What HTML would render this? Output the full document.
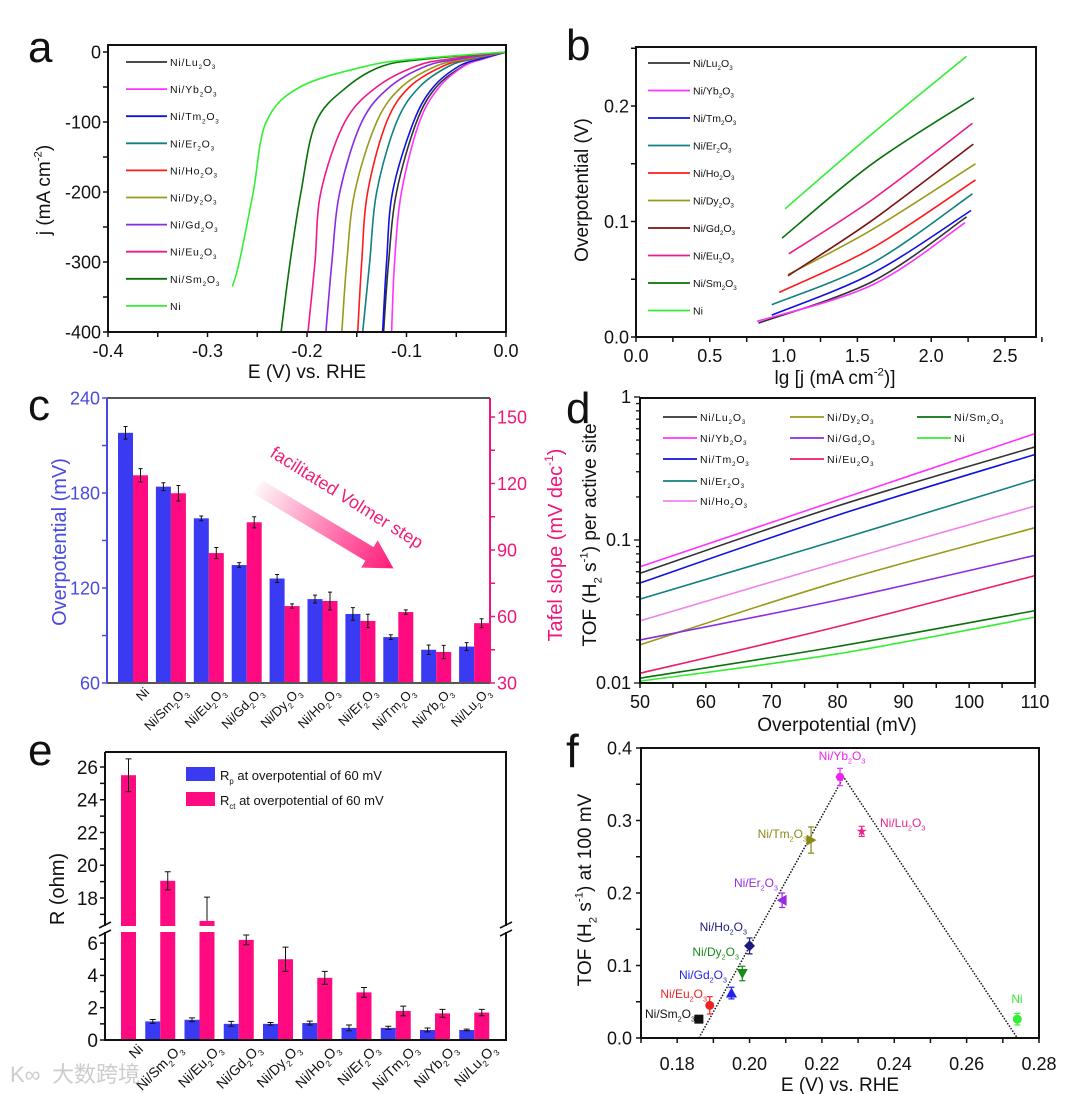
<!DOCTYPE html>
<html><head><meta charset="utf-8"><title>Figure</title>
<style>
html,body{margin:0;padding:0;background:#fff;}
svg{display:block;font-family:"Liberation Sans","Noto Sans CJK SC",sans-serif;}
</style></head>
<body>
<svg id="fig" width="1080" height="1094" viewBox="0 0 1080 1094"></svg>
<script>
// ---------- DATA ----------
// panel a
const seriesA = ["Ni/Lu{_2}O{_3}","Ni/Yb{_2}O{_3}","Ni/Tm{_2}O{_3}","Ni/Er{_2}O{_3}","Ni/Ho{_2}O{_3}","Ni/Dy{_2}O{_3}","Ni/Gd{_2}O{_3}","Ni/Eu{_2}O{_3}","Ni/Sm{_2}O{_3}","Ni"];
const colorsA = ["#333333","#ff33ff","#1010e0","#108080","#ff1a1a","#9a9a1a","#8a2be2","#ee1a8a","#0a700a","#33ee33"];
const jLevels = [0,-10,-20,-50,-100,-200,-300,-400];
const jLevelsNi = [0,-10,-20,-50,-100,-200,-300,-335];
const eLu = [0,-0.025,-0.043,-0.070,-0.090,-0.110,-0.118,-0.123];
const eYb = [0,-0.023,-0.042,-0.067,-0.087,-0.105,-0.112,-0.115];
const eTm = [0,-0.026,-0.047,-0.073,-0.093,-0.114,-0.120,-0.124];
const eEr = [0,-0.033,-0.057,-0.087,-0.110,-0.130,-0.137,-0.144];
const eHo = [0,-0.037,-0.063,-0.097,-0.120,-0.139,-0.145,-0.149];
const eDy = [0,-0.040,-0.070,-0.105,-0.130,-0.152,-0.160,-0.165];
const eGd = [0,-0.047,-0.080,-0.117,-0.145,-0.167,-0.175,-0.181];
const eEu = [0,-0.057,-0.090,-0.130,-0.162,-0.186,-0.192,-0.199];
const eSm = [0,-0.080,-0.124,-0.160,-0.191,-0.206,-0.217,-0.226];
const eNi = [0,-0.090,-0.140,-0.207,-0.241,-0.254,-0.268,-0.275];
// panel b : lg j and overpotential at start / middle / end
const colorsB = ["#333333","#ff33ff","#1010e0","#108080","#ff1a1a","#9a9a1a","#7a1010","#ee1a8a","#0a700a","#33ee33"];
const lgLu=[0.83,1.6,2.24], etaLu=[0.012,0.048,0.104];
const lgYb=[0.82,1.6,2.23], etaYb=[0.0135,0.045,0.099];
const lgTm=[0.92,1.6,2.27], etaTm=[0.019,0.055,0.1095];
const lgEr=[0.92,1.6,2.28], etaEr=[0.028,0.064,0.124];
const lgHo=[0.97,1.6,2.30], etaHo=[0.0386,0.077,0.136];
const lgDy=[1.03,1.6,2.30], etaDy=[0.054,0.093,0.150];
const lgGd=[1.03,1.6,2.285], etaGd=[0.053,0.101,0.167];
const lgEu=[1.035,1.6,2.28], etaEu=[0.072,0.119,0.185];
const lgSm=[0.99,1.6,2.29], etaSm=[0.0856,0.150,0.207];
const lgNi=[1.01,1.6,2.24], etaNi=[0.111,0.176,0.243];
// panel c
const catsC = ["Ni","Ni/Sm{_2}O{_3}","Ni/Eu{_2}O{_3}","Ni/Gd{_2}O{_3}","Ni/Dy{_2}O{_3}","Ni/Ho{_2}O{_3}","Ni/Er{_2}O{_3}","Ni/Tm{_2}O{_3}","Ni/Yb{_2}O{_3}","Ni/Lu{_2}O{_3}"];
const overpot = [218,184,164,134.5,126,113,103.6,89,81,83];
const overpotErr = [4,2.5,1.5,1.5,2.5,2.5,4,1.5,3,2.5];
const tafel = [123.7,115.6,88.6,102.5,64.7,67,58,62,44,57];
const tafelErr = [3,3.5,2.5,2.5,1,4,3,1,3,2];
// panel d : TOF at 50, 80, 110 mV
const etaD = [50,80,110];
const seriesD = ["Ni/Lu{_2}O{_3}","Ni/Yb{_2}O{_3}","Ni/Tm{_2}O{_3}","Ni/Er{_2}O{_3}","Ni/Ho{_2}O{_3}","Ni/Dy{_2}O{_3}","Ni/Gd{_2}O{_3}","Ni/Eu{_2}O{_3}","Ni/Sm{_2}O{_3}","Ni"];
const colorsD = ["#333333","#ff33ff","#1010e0","#108080","#ee82ee","#9a9a1a","#8a2be2","#ee1a6a","#0a700a","#33ee33"];
const tofLu=[0.0585,0.173,0.448];
const tofYb=[0.065,0.19,0.555];
const tofTm=[0.050,0.149,0.396];
const tofEr=[0.0386,0.100,0.265];
const tofHo=[0.0272,0.0695,0.173];
const tofDy=[0.0185,0.051,0.122];
const tofGd=[0.020,0.038,0.078];
const tofEu=[0.0117,0.0248,0.0564];
const tofSm=[0.0108,0.018,0.0321];
const tofNi=[0.0103,0.016,0.0289];
// panel e
const catsE = catsC;
const rp = [null,1.15,1.25,1.0,1.0,1.05,0.75,0.75,0.62,0.62];
const rpErr = [0,0.12,0.12,0.15,0.08,0.12,0.18,0.1,0.12,0.05];
const rct = [25.5,19.05,16.6,6.2,5.0,3.85,2.95,1.8,1.65,1.7];
const rctErr = [1.0,0.55,1.45,0.3,0.75,0.4,0.3,0.3,0.25,0.2];
// panel f
const namesF = ["Ni/Sm{_2}O{_3}","Ni/Eu{_2}O{_3}","Ni/Gd{_2}O{_3}","Ni/Dy{_2}O{_3}","Ni/Ho{_2}O{_3}","Ni/Er{_2}O{_3}","Ni/Tm{_2}O{_3}","Ni/Yb{_2}O{_3}","Ni/Lu{_2}O{_3}","Ni"];
const eF = [0.186,0.189,0.195,0.198,0.200,0.209,0.217,0.225,0.231,0.274];
const tofF = [0.026,0.045,0.062,0.089,0.127,0.190,0.273,0.360,0.285,0.026];
const tofFErr = [0.003,0.012,0.008,0.01,0.011,0.01,0.018,0.012,0.007,0.008];
const colorsF = ["#111111","#ee2222","#2222ee","#1a8a1a","#1a1a80","#9a2be2","#8a8a1a","#ee22ee","#ee2288","#33ee33"];
const shapesF = ["square","circle","up","down","diamond","left","right","hex","star","circle"];
const volcanoE = [0.186,0.226,0.274];
const volcanoT = [0,0.36,0];

// ---------- HELPERS ----------
const NS="http://www.w3.org/2000/svg";
const svg=document.getElementById('fig');
function mk(tag,attrs,parent){const e=document.createElementNS(NS,tag);for(const k in attrs)e.setAttribute(k,attrs[k]);(parent||svg).appendChild(e);return e;}
function lin(d0,d1,r0,r1){return v=>r0+(v-d0)/(d1-d0)*(r1-r0);}
function rich(t,str,fs){
  const re=/\{([_^])([^}]*)\}/g;let last=0,m,cur=0;
  function piece(s,off,size){if(!s)return;const sp=mk('tspan',{dy:(off-cur).toFixed(2)},t);if(size)sp.setAttribute('font-size',size);sp.textContent=s;cur=off;}
  while((m=re.exec(str))){piece(str.slice(last,m.index),0);piece(m[2],m[1]=='_'?fs*0.3:-fs*0.45,fs*0.6);last=re.lastIndex;}
  piece(str.slice(last),0);
}
function txt(x,y,str,fs,opts,parent){
  const t=mk('text',Object.assign({x:x,y:y,'font-size':fs,fill:'#111'},opts||{}),parent);
  rich(t,str,fs);return t;
}
function smooth(pts){
  let d='M'+pts[0][0].toFixed(1)+','+pts[0][1].toFixed(1);
  for(let i=0;i<pts.length-1;i++){
    const p0=pts[i-1]||pts[i],p1=pts[i],p2=pts[i+1],p3=pts[i+2]||p2;
    const c1=[p1[0]+(p2[0]-p0[0])/6,p1[1]+(p2[1]-p0[1])/6];
    const c2=[p2[0]-(p3[0]-p1[0])/6,p2[1]-(p3[1]-p1[1])/6];
    d+=' C'+c1[0].toFixed(1)+','+c1[1].toFixed(1)+' '+c2[0].toFixed(1)+','+c2[1].toFixed(1)+' '+p2[0].toFixed(1)+','+p2[1].toFixed(1);
  }
  return d;
}
function frame(g,x0,y0,x1,y1,name){
  const r=mk('rect',{x:x0,y:y0,width:x1-x0,height:y1-y0,fill:'none',stroke:'#111','stroke-width':2},g);
  
  
  return r;
}
function xTicks(g,sc,vals,y,len,labelFn,fs,ly,color){
  vals.forEach(v=>{
    const l=mk('line',{x1:sc(v),x2:sc(v),y1:y,y2:y+len,stroke:color||'#111','stroke-width':1.5},g);
    
    
    const s=labelFn?labelFn(v):null;
    if(s!==null&&s!==undefined){
      const t=txt(sc(v),ly,s,fs,{'text-anchor':'middle'},g);
      
      
    }
  });
}
function yTicks(g,sc,vals,x,len,labelFn,fs,lx,color,anchor){
  vals.forEach(v=>{
    const l=mk('line',{x1:x,x2:x+len,y1:sc(v),y2:sc(v),stroke:color||'#111','stroke-width':1.5},g);
    
    
    const s=labelFn?labelFn(v):null;
    if(s!==null&&s!==undefined){
      const t=txt(lx,sc(v)+fs*0.36,s,fs,{'text-anchor':anchor||'end',fill:color||'#111'},g);
      
      
    }
  });
}
function range(a,b,s){const r=[];for(let v=a;v<=b+1e-9;v+=s)r.push(+v.toFixed(6));return r;}
function panelLetter(x,y,s,fs){const t=txt(x,y,s,fs||44,{'font-weight':'normal'});
  
  }

// ---------- PANEL A ----------
(function(){
  const g=mk('g',{});
  
  
  const xA=lin(-0.4,0,108,506), yA=lin(0,-400,52,332);
  const cp=mk('clipPath',{id:'clipA'},g);mk('rect',{x:108,y:45,width:398,height:287},cp);
  const eArr=[eLu,eYb,eTm,eEr,eHo,eDy,eGd,eEu,eSm,eNi];
  const cg=mk('g',{'clip-path':'url(#clipA)'},g);
  eArr.forEach((E,i)=>{
    const J=(i==9)?jLevelsNi:jLevels;
    const pts=E.map((e,k)=>[xA(e),yA(J[k])]);
    const p=mk('path',{d:smooth(pts),fill:'none',stroke:colorsA[i],'stroke-width':1.6},cg);
    
    
  });
  frame(g,108,45,506,332,'plot-frame-a');
  xTicks(g,xA,range(-0.4,0,0.05),332,5,v=>Math.abs((v*10)%1)<1e-6?v.toFixed(1):null,18,357);
  yTicks(g,yA,range(-400,0,50),108,-5,v=>v%100==0?String(v):null,18,101);
  const xt=txt(307,378,'E (V) vs. RHE',19,{'text-anchor':'middle'},g);
  
  
  const yt=txt(0,0,'j (mA cm{^-2})',19,{'text-anchor':'middle',transform:'translate(50,190) rotate(-90)'},g);
  
  
  seriesA.forEach((s,i)=>{
    const y=62+i*27.1;
    const l=mk('line',{x1:126,x2:167,y1:y,y2:y,stroke:colorsA[i],'stroke-width':1.8},g);
    
    
    const t=txt(170,y+4,s,10.5,{'letter-spacing':'0.8'},g);
    
    
  });
})();
panelLetter(28,62,'a');

// ---------- PANEL B ----------
(function(){
  const g=mk('g',{});
  
  
  const xB=lin(0,2.5,636,1005), yB=lin(0,0.2,337,106);
  const lgs=[lgLu,lgYb,lgTm,lgEr,lgHo,lgDy,lgGd,lgEu,lgSm,lgNi];
  const etas=[etaLu,etaYb,etaTm,etaEr,etaHo,etaDy,etaGd,etaEu,etaSm,etaNi];
  lgs.forEach((L,i)=>{
    const pts=L.map((v,k)=>[xB(v),yB(etas[i][k])]);
    const p=mk('path',{d:smooth(pts),fill:'none',stroke:colorsB[i],'stroke-width':1.6},g);
    
    
  });
  frame(g,636,47,1036,337,'plot-frame-b');
  xTicks(g,xB,range(0,2.75,0.25),337,5,v=>Math.abs((v*2)%1)<1e-6?v.toFixed(1):null,18,362);
  yTicks(g,yB,range(0,0.25,0.05),636,-5,v=>Math.abs((v*10)%1)<1e-6?v.toFixed(1):null,18,629);
  const xt=txt(835,384,'lg [j (mA cm{^-2})]',19,{'text-anchor':'middle'},g);
  
  
  const yt=txt(0,0,'Overpotential (V)',19,{'text-anchor':'middle',transform:'translate(588,190) rotate(-90)'},g);
  
  
  seriesA.forEach((s,i)=>{
    const y=63+i*27.5;
    const l=mk('line',{x1:648,x2:690,y1:y,y2:y,stroke:colorsB[i],'stroke-width':1.8},g);
    
    
    const t=txt(693,y+4,s,10.5,{},g);
    
    
  });
})();
panelLetter(566,60,'b');

// ---------- PANEL C ----------
(function(){
  const g=mk('g',{});
  
  
  const yL=lin(60,240,683,398), yR=lin(30,150,683,417);
  const BLUE='#3a3af2', PINK='#ff0a80', BC='#4a4ae0', PC='#f0157a';
  const gx=i=>118+i*37.9;
  catsC.forEach((c,i)=>{
    const b=mk('rect',{x:gx(i),y:yL(overpot[i]),width:15,height:683-yL(overpot[i]),fill:BLUE},g);
    
    
    const p=mk('rect',{x:gx(i)+15,y:yR(tafel[i]),width:15,height:683-yR(tafel[i]),fill:PINK},g);
    
    
    [[gx(i)+7.5,yL(overpot[i]+overpotErr[i]),yL(overpot[i]-overpotErr[i])],[gx(i)+22.5,yR(tafel[i]+tafelErr[i]),yR(tafel[i]-tafelErr[i])]].forEach(e=>{
      const eb=mk('path',{d:`M${e[0]},${e[1]}V${e[2]}M${e[0]-2},${e[1]}H${e[0]+2}M${e[0]-2},${e[2]}H${e[0]+2}`,stroke:'#111','stroke-width':1,fill:'none'},g);
      
      
    });
    const t=txt(0,0,c,13,{'text-anchor':'end',transform:`translate(${gx(i)+32},${693}) rotate(-45)`},g);
    
    
  });
  const fr=mk('path',{d:'M107,398H490M107,683H490',stroke:'#555','stroke-width':2,fill:'none'},g);
  
  
  const la=mk('line',{x1:107,x2:107,y1:398,y2:683,stroke:BC,'stroke-width':2},g);
  
  
  const ra=mk('line',{x1:490,x2:490,y1:398,y2:683,stroke:PC,'stroke-width':2},g);
  
  
  yTicks(g,yL,range(60,240,30),107,-5,v=>v%60==0?String(v):null,18,100,BC);
  yTicks(g,yR,range(30,150,15),490,5,v=>v%30==0?String(v):null,18,497,PC,'start');
  const yt=txt(0,0,'Overpotential (mV)',20,{'text-anchor':'middle',fill:BC,transform:'translate(66,542) rotate(-90)'},g);
  
  
  const yt2=txt(0,0,'Tafel slope (mV dec{^-1})',20,{'text-anchor':'middle',fill:PC,transform:'translate(562,545) rotate(-90)'},g);
  
  
  const defs=mk('defs',{},g);
  const lg=mk('linearGradient',{id:'arrGrad',x1:'0',y1:'0',x2:'1',y2:'0'},defs);
  mk('stop',{offset:'0','stop-color':'#ff2d84','stop-opacity':'0.05'},lg);
  mk('stop',{offset:'0.6','stop-color':'#ff2d84','stop-opacity':'0.7'},lg);
  mk('stop',{offset:'1','stop-color':'#ff1a78','stop-opacity':'1'},lg);
  const ar=mk('polygon',{points:'0,-8 130,-8 130,-16 158,0 130,16 130,8 0,8',fill:'url(#arrGrad)',transform:'translate(258,487) rotate(31)'},g);
  
  
  const at=txt(0,0,'facilitated Volmer step',18,{fill:'#f0207a',transform:'translate(269,456) rotate(32)'},g);
  
  
})();
panelLetter(28,420,'c');

// ---------- PANEL D ----------
(function(){
  const g=mk('g',{});
  
  
  const xD=lin(50,110,640,1035);
  const yD=v=>683-143*Math.log10(v/0.01);
  const tofs=[tofLu,tofYb,tofTm,tofEr,tofHo,tofDy,tofGd,tofEu,tofSm,tofNi];
  tofs.forEach((T,i)=>{
    const pts=T.map((v,k)=>[xD(etaD[k]),yD(v)]);
    const p=mk('path',{d:smooth(pts),fill:'none',stroke:colorsD[i],'stroke-width':1.6},g);
    
    
  });
  frame(g,640,398,1035,683,'plot-frame-d');
  xTicks(g,xD,range(50,110,5),683,5,v=>v%10==0?String(v):null,18,708);
  const minors=[];[0.01,0.1].forEach(d=>{for(let k=1;k<=9;k++)minors.push(+(d*k).toFixed(4));});minors.push(1);
  minors.forEach(v=>{
    const major=(v==0.01||v==0.1||v==1);
    const l=mk('line',{x1:640,x2:major?634:636,y1:yD(v),y2:yD(v),stroke:'#111','stroke-width':1.3},g);
    
    
    if(major){const t=txt(631,yD(v)+6,String(v),18,{'text-anchor':'end'},g);
      
      }
  });
  const xt=txt(837,731,'Overpotential (mV)',19,{'text-anchor':'middle'},g);
  
  
  const yt=txt(0,0,'TOF (H{_2} s{^-1}) per active site',19,{'text-anchor':'middle',transform:'translate(596,535) rotate(-90)'},g);
  
  
  const order=[0,5,8,1,6,9,2,7,-1,3,-1,-1,4,-1,-1];
  const colX=[663,790,917];
  const rowY=[417,438,459,481,501];
  order.forEach((si,k)=>{
    if(si<0)return;
    const x=colX[k%3], y=rowY[Math.floor(k/3)];
    const l=mk('line',{x1:x,x2:x+34,y1:y,y2:y,stroke:colorsD[si],'stroke-width':1.8},g);
    
    
    const t=txt(x+37,y+4,seriesD[si],10.5,{'letter-spacing':'0.8'},g);
    
    
  });
})();
panelLetter(566,423,'d');

// ---------- PANEL E ----------
(function(){
  const g=mk('g',{});
  
  
  const yE=v=>v<=6.8?1040-v*16.15:898-(v-18)*16.375;
  const gx=i=>106+i*39.25;
  const BLUE='#3a3af2', PINK='#ff0a80';
  catsE.forEach((c,i)=>{
    if(rp[i]!==null){
      const b=mk('rect',{x:gx(i),y:yE(rp[i]),width:15,height:1040-yE(rp[i]),fill:BLUE},g);
      
      
      const x=gx(i)+7.5,y1=yE(rp[i]+rpErr[i]),y2=yE(rp[i]-rpErr[i]);
      const eb=mk('path',{d:`M${x},${y1}V${y2}M${x-3},${y1}H${x+3}M${x-3},${y2}H${x+3}`,stroke:'#111','stroke-width':1,fill:'none'},g);
      
      
    }
    const p=mk('rect',{x:gx(i)+15,y:yE(rct[i]),width:15,height:1040-yE(rct[i]),fill:PINK},g);
    
    
    const x=gx(i)+22.5,y1=yE(rct[i]+rctErr[i]),y2=(i==2)?yE(rct[i]):yE(rct[i]-rctErr[i]);
    const eb=mk('path',{d:`M${x},${y1}V${y2}M${x-3},${y1}H${x+3}`+(i==2?'':`M${x-3},${y2}H${x+3}`),stroke:'#111','stroke-width':1,fill:'none'},g);
    
    
    const t=txt(0,0,c,14,{'text-anchor':'end',transform:`translate(${gx(i)+38},${1050}) rotate(-45)`},g);
    
    
  });
  const gap=mk('rect',{x:106,y:926,width:400,height:6,fill:'#fff'},g);
  
  
  const fr=mk('path',{d:'M105,752H506V926M506,932V1040H105V932M105,926V752',stroke:'#111','stroke-width':2,fill:'none'},g);
  
  
  [105,506].forEach(x=>{
    const bk=mk('path',{d:`M${x-6},${928}L${x+6},${922}M${x-6},${936}L${x+6},${930}`,stroke:'#111','stroke-width':1.6},g);
    
    
  });
  yTicks(g,yE,range(0,6,1),105,-5,v=>v%2==0?String(v):null,19,98);
  yTicks(g,yE,range(17,26,1),105,-5,v=>v%2==0?String(v):null,19,98);
  const yt=txt(0,0,'R (ohm)',20,{'text-anchor':'middle',transform:'translate(64,889) rotate(-90)'},g);
  
  
  const l1=mk('rect',{x:186,y:767,width:29,height:14,fill:BLUE},g);
  
  
  const t1=txt(220,780,'R{_p}  at overpotential of 60 mV',13,{},g);
  
  
  const l2=mk('rect',{x:186,y:792,width:29,height:14,fill:PINK},g);
  
  
  const t2=txt(220,805,'R{_ct} at overpotential of 60 mV',13,{},g);
  
  
})();
panelLetter(28,765,'e');

// ---------- PANEL F ----------
(function(){
  const g=mk('g',{});
  
  
  const xF=lin(0.17,0.28,641,1039), yF=lin(0,0.4,1038,748);
  const vl=mk('polyline',{points:volcanoE.map((e,k)=>xF(e)+','+yF(volcanoT[k])).join(' '),fill:'none',stroke:'#111','stroke-width':1.5,'stroke-dasharray':'1.5,1.5'},g);
  
  
  const labPos=[[695,1018,'end'],[707,998,'end'],[727,979,'end'],[739,956,'end'],[747,931,'end'],[778,887,'end'],[807,838,'end'],[842,760,'middle'],[880,827,'start'],[1017,1003,'middle']];
  eF.forEach((e,i)=>{
    const x=xF(e),y=yF(tofF[i]),c=colorsF[i],r=4.5;
    const y1=yF(tofF[i]+tofFErr[i]),y2=yF(tofF[i]-tofFErr[i]);
    const eb=mk('path',{d:`M${x},${y1}V${y2}M${x-3},${y1}H${x+3}M${x-3},${y2}H${x+3}`,stroke:c,'stroke-width':1.2,fill:'none'},g);
    
    
    let m;
    const sh=shapesF[i];
    if(sh=='square')m=mk('rect',{x:x-r,y:y-r,width:2*r,height:2*r,fill:c},g);
    else if(sh=='circle')m=mk('circle',{cx:x,cy:y,r:r,fill:c},g);
    else if(sh=='up')m=mk('polygon',{points:`${x},${y-r-1} ${x+r+1},${y+r} ${x-r-1},${y+r}`,fill:c},g);
    else if(sh=='down')m=mk('polygon',{points:`${x},${y+r+1} ${x+r+1},${y-r} ${x-r-1},${y-r}`,fill:c},g);
    else if(sh=='diamond')m=mk('polygon',{points:`${x},${y-r-1} ${x+r+1},${y} ${x},${y+r+1} ${x-r-1},${y}`,fill:c},g);
    else if(sh=='left')m=mk('polygon',{points:`${x-r-1},${y} ${x+r},${y-r-1} ${x+r},${y+r+1}`,fill:c},g);
    else if(sh=='right')m=mk('polygon',{points:`${x+r+1},${y} ${x-r},${y-r-1} ${x-r},${y+r+1}`,fill:c},g);
    else if(sh=='hex'){let pp=[];for(let k=0;k<6;k++){const a=Math.PI/3*k;pp.push((x+r*Math.cos(a)).toFixed(1)+','+(y+r*Math.sin(a)).toFixed(1));}m=mk('polygon',{points:pp.join(' '),fill:c},g);}
    else {let pp=[];for(let k=0;k<10;k++){const a=-Math.PI/2+Math.PI/5*k,rr=k%2?r*0.45:r+1;pp.push((x+rr*Math.cos(a)).toFixed(1)+','+(y+rr*Math.sin(a)).toFixed(1));}m=mk('polygon',{points:pp.join(' '),fill:c},g);}
    
    
    const lp=labPos[i];
    const t=txt(lp[0],lp[1],namesF[i],12,{'text-anchor':lp[2],fill:c},g);
    
    
  });
  frame(g,641,748,1039,1038,'plot-frame-f');
  xTicks(g,xF,range(0.17,0.28,0.01),1038,5,v=>Math.round(v*1000)%20==0?v.toFixed(2):null,18,1070);
  yTicks(g,yF,range(0,0.4,0.05),641,-5,v=>Math.round(v*100)%10==0?v.toFixed(1):null,18,632);
  const xt=txt(840,1091,'E (V) vs. RHE',19,{'text-anchor':'middle'},g);
  
  
  const yt=txt(0,0,'TOF (H{_2} s{^-1}) at 100 mV',19,{'text-anchor':'middle',transform:'translate(591,890) rotate(-90)'},g);
  
  
})();
panelLetter(566,767,'f',46);

// watermark
const wm=txt(52,1082,'大数跨境',22,{fill:'#bbbbbb','fill-opacity':'0.75'});


const wi=txt(10,1082,'K∞',22,{fill:'#bbbbbb','fill-opacity':'0.75'});


</script>
</body></html>
